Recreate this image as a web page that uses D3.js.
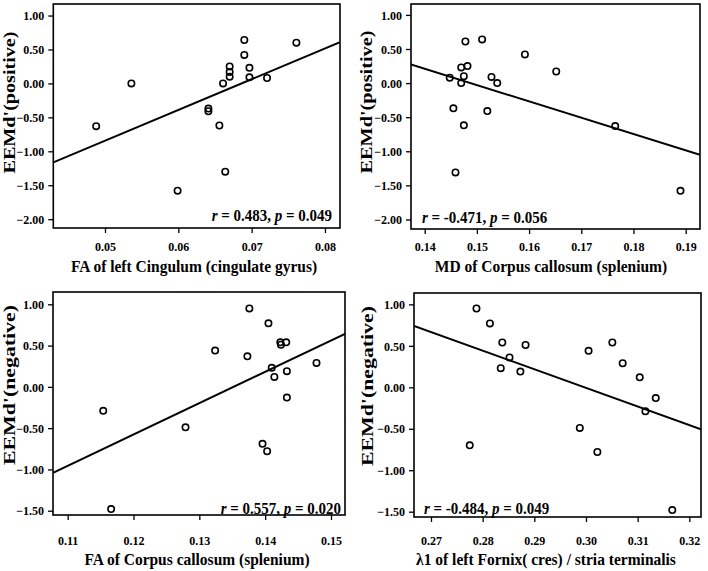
<!DOCTYPE html>
<html>
<head>
<meta charset="utf-8">
<script src="https://cdn.jsdelivr.net/npm/d3@7"></script>
<style>
  html, body { margin: 0; padding: 0; background: #fff; }
  svg { display: block; }
  text { font-family: "Liberation Serif", "Times New Roman", serif; font-weight: bold; fill: #000; }
</style>
</head>
<body>
<svg id="chart" width="708" height="571"></svg>
<script>
// ---------------- DATA ----------------
// Panel A: FA of left Cingulum vs EEMd'(positive)
const faCingulum = [0.0488, 0.0536, 0.0599, 0.0641, 0.0641, 0.0656, 0.0661, 0.0670, 0.0670, 0.0670, 0.0664, 0.0690, 0.0690, 0.0697, 0.0697, 0.0721, 0.0761];
const eemdPosA   = [-0.63, 0.00, -1.58, -0.37, -0.41, -0.62, 0.00, 0.25, 0.17, 0.10, -1.30, 0.64, 0.42, 0.23, 0.09, 0.08, 0.60];

// Panel B: MD of Corpus callosum (splenium) vs EEMd'(positive)
const mdSplenium = [0.1478, 0.1510, 0.1592, 0.1470, 0.1482, 0.1448, 0.1475, 0.1528, 0.1539, 0.1470, 0.1455, 0.1520, 0.1475, 0.1652, 0.1765, 0.1890, 0.1459];
const eemdPosB   = [0.61, 0.64, 0.42, 0.23, 0.25, 0.08, 0.10, 0.09, 0.00, 0.00, -0.37, -0.41, -0.62, 0.17, -0.63, -1.58, -1.31];

// Panel C: FA of Corpus callosum (splenium) vs EEMd'(negative)
const faSplenium = [0.1376, 0.1405, 0.1423, 0.1424, 0.1432, 0.1324, 0.1373, 0.1478, 0.1410, 0.1414, 0.1433, 0.1433, 0.1154, 0.1279, 0.1396, 0.1403, 0.1166];
const eemdNegC   = [0.95, 0.77, 0.54, 0.51, 0.54, 0.44, 0.37, 0.29, 0.23, 0.12, 0.19, -0.13, -0.29, -0.49, -0.69, -0.78, -1.48];

// Panel D: lambda1 of left Fornix (cres) / stria terminalis vs EEMd'(negative)
const l1Fornix = [0.2788, 0.2814, 0.2838, 0.2835, 0.2852, 0.2873, 0.2883, 0.2775, 0.2988, 0.3005, 0.3022, 0.3051, 0.3071, 0.3104, 0.3115, 0.3135, 0.3167];
const eemdNegD = [0.95, 0.77, 0.54, 0.23, 0.36, 0.19, 0.51, -0.70, -0.49, 0.44, -0.78, 0.54, 0.29, 0.12, -0.29, -0.13, -1.48];

// Fit lines (slope, intercept)
const fitSlopes     = [45.26, -23.96, 37.95, -22.46];
const fitIntercepts = [-3.107, 3.565, -5.131, 6.731];

// Statistics
const rValues = ["0.483", "-0.471", "0.557", "-0.484"];
const pValues = ["0.049", "0.056", "0.020", "0.049"];

// Axis titles
const xTitles = ["FA of left Cingulum (cingulate gyrus)", "MD of Corpus callosum (splenium)", "FA of Corpus callosum (splenium)", "\u03BB1 of left Fornix( cres) / stria terminalis"];
const yTitles = ["EEMd'(positive)", "EEMd'(positive)", "EEMd'(negative)", "EEMd'(negative)"];

// Tick values
const xTicksA = [0.05, 0.06, 0.07, 0.08];
const xTicksB = [0.14, 0.15, 0.16, 0.17, 0.18, 0.19];
const xTicksC = [0.11, 0.12, 0.13, 0.14, 0.15];
const xTicksD = [0.27, 0.28, 0.29, 0.30, 0.31, 0.32];
const yTicksTop    = [1.00, 0.50, 0.00, -0.50, -1.00, -1.50, -2.00];
const yTicksBottom = [1.00, 0.50, 0.00, -0.50, -1.00, -1.50];

// ---------------- LAYOUT ----------------
const panels = [
  { xs: faCingulum, ys: eemdPosA, xTicks: xTicksA, yTicks: yTicksTop,
    left: 53.3, right: 340, top: 4, bottom: 228,
    xDom: [0.04295, 0.08205], yDom: [-2.13, 1.17],
    statAlign: "end", statX: 332, statY: 220.5,
    yTitleX: 15, yTitleY: 102.5, yTitleLen: 142, xTitleX: 194, xTitleY: 272,
    tickLabelY: 251 },
  { xs: mdSplenium, ys: eemdPosB, xTicks: xTicksB, yTicks: yTicksTop,
    left: 411, right: 700, top: 4, bottom: 229,
    xDom: [0.13738, 0.19274], yDom: [-2.14, 1.16],
    statAlign: "start", statX: 422, statY: 222.5,
    yTitleX: 372, yTitleY: 102, yTitleLen: 143, xTitleX: 551, xTitleY: 272,
    tickLabelY: 251 },
  { xs: faSplenium, ys: eemdNegC, xTicks: xTicksC, yTicks: yTicksBottom,
    left: 53, right: 345, top: 292, bottom: 515,
    xDom: [0.10777, 0.15213], yDom: [-1.552, 1.149],
    statAlign: "end", statX: 341, statY: 514,
    yTitleX: 15, yTitleY: 385, yTitleLen: 160, xTitleX: 197, xTitleY: 565,
    tickLabelY: 544.5 },
  { xs: l1Fornix, ys: eemdNegD, xTicks: xTicksD, yTicks: yTicksBottom,
    left: 414, right: 701, top: 293, bottom: 517,
    xDom: [0.26671, 0.32226], yDom: [-1.564, 1.137],
    statAlign: "start", statX: 424, statY: 514,
    yTitleX: 373, yTitleY: 386, yTitleLen: 160, xTitleX: 546, xTitleY: 565,
    tickLabelY: 544.5 }
];

const svg = d3.select("#chart");
const fmt = d3.format(".2f");

panels.forEach((p, i) => {
  const x = d3.scaleLinear().domain(p.xDom).range([p.left, p.right]);
  const y = d3.scaleLinear().domain(p.yDom).range([p.bottom, p.top]);
  const g = svg.append("g");

  // Y axis
  const ya = g.append("g").attr("transform", `translate(${p.left},0)`)
    .call(d3.axisLeft(y).tickValues(p.yTicks).tickFormat(fmt).tickSize(5).tickPadding(4).tickSizeOuter(0));
  ya.select(".domain").remove();
  ya.selectAll(".tick line").attr("stroke", "#000").attr("stroke-width", 1.3);
  ya.selectAll(".tick text").attr("font-size", 12).attr("font-family", null).attr("dy", "0.35em");

  // X axis
  const xa = g.append("g").attr("transform", `translate(0,${p.bottom})`)
    .call(d3.axisBottom(x).tickValues(p.xTicks).tickFormat(fmt).tickSize(5).tickPadding(4).tickSizeOuter(0));
  xa.select(".domain").remove();
  xa.selectAll(".tick line").attr("stroke", "#000").attr("stroke-width", 1.3);
  xa.selectAll(".tick text").attr("font-size", 12).attr("font-family", null)
    .attr("dy", null).attr("y", p.tickLabelY - p.bottom);

  // Frame
  g.append("rect")
    .attr("x", p.left).attr("y", p.top)
    .attr("width", p.right - p.left).attr("height", p.bottom - p.top)
    .attr("fill", "none").attr("stroke", "#000").attr("stroke-width", 1.6);

  // Fit line
  const clip = "clip" + i;
  g.append("clipPath").attr("id", clip).append("rect")
    .attr("x", p.left).attr("y", p.top)
    .attr("width", p.right - p.left).attr("height", p.bottom - p.top);
  const xd = x.domain();
  g.append("line")
    .attr("clip-path", `url(#${clip})`)
    .attr("x1", x(xd[0])).attr("y1", y(fitSlopes[i] * xd[0] + fitIntercepts[i]))
    .attr("x2", x(xd[1])).attr("y2", y(fitSlopes[i] * xd[1] + fitIntercepts[i]))
    .attr("stroke", "#000").attr("stroke-width", 2);

  // Points
  g.selectAll("circle.pt").data(p.xs.map((v, k) => [v, p.ys[k]])).enter()
    .append("circle").attr("class", "pt")
    .attr("cx", d => x(d[0])).attr("cy", d => y(d[1]))
    .attr("r", 3.2).attr("fill", "none").attr("stroke", "#000").attr("stroke-width", 1.6);

  // Statistics annotation (slightly stretched vertically like the reference)
  const st = g.append("text")
    .attr("transform", `translate(${p.statX},${p.statY}) scale(1,1.1)`)
    .attr("text-anchor", p.statAlign).attr("font-size", 15);
  st.append("tspan").attr("font-style", "italic").text("r");
  st.append("tspan").text(" = " + rValues[i] + ", ");
  st.append("tspan").attr("font-style", "italic").text("p");
  st.append("tspan").text(" = " + pValues[i]);

  // Axis titles
  g.append("text")
    .attr("transform", `translate(${p.xTitleX},${p.xTitleY}) scale(1,1.1)`)
    .attr("text-anchor", "middle").attr("font-size", 15.5).text(xTitles[i]);
  g.append("text")
    .attr("transform", `translate(${p.yTitleX},${p.yTitleY}) rotate(-90)`)
    .attr("text-anchor", "middle").attr("font-size", 16.5)
    .attr("textLength", p.yTitleLen).attr("lengthAdjust", "spacingAndGlyphs")
    .text(yTitles[i]);
});
</script>
</body>
</html>
